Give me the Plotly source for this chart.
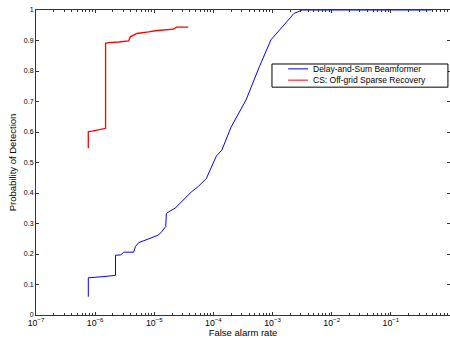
import plotly.graph_objects as go

# Delay-and-Sum Beamformer ROC (false alarm rate, probability of detection)
das_far = [7.66e-7, 7.66e-7, 1.41e-6, 2.21e-6, 2.21e-6, 2.71e-6, 3.04e-6, 4.48e-6,
           4.79e-6, 5.43e-6, 1.175e-5, 1.32e-5, 1.56e-5, 1.60e-5, 1.78e-5, 2.24e-5,
           4.26e-5, 5.52e-5, 7.60e-5, 9.84e-5, 1.12e-4, 1.39e-4, 2.0e-4, 3.56e-4,
           5.98e-4, 9.38e-4, 1.57e-3, 2.31e-3, 3.18e-3, 0.484]
das_pd = [0.060, 0.122, 0.126, 0.130, 0.196, 0.197, 0.206, 0.206,
          0.224, 0.237, 0.262, 0.272, 0.290, 0.333, 0.339, 0.350,
          0.404, 0.421, 0.448, 0.497, 0.521, 0.541, 0.617, 0.705,
          0.814, 0.902, 0.951, 0.989, 1.0, 1.0]

# CS: Off-grid Sparse Recovery ROC
cs_far = [7.66e-7, 7.66e-7, 8.93e-7, 1.16e-6, 1.35e-6, 1.50e-6, 1.50e-6, 1.71e-6,
          2.51e-6, 3.69e-6, 3.94e-6, 4.48e-6, 5.08e-6, 8.0e-6, 1.035e-5, 2.10e-5,
          2.39e-5, 3.75e-5]
cs_pd = [0.547, 0.601, 0.603, 0.607, 0.610, 0.612, 0.891, 0.893,
         0.895, 0.899, 0.912, 0.918, 0.923, 0.928, 0.932, 0.937,
         0.944, 0.944]

series_names = ["Delay-and-Sum Beamformer", "CS: Off-grid Sparse Recovery"]
series_colors = ["#0000ff", "#ff0000"]

y_ticks = [0, 0.1, 0.2, 0.3, 0.4, 0.5, 0.6, 0.7, 0.8, 0.9, 1]
y_tick_text = ["0", "0.1", "0.2", "0.3", "0.4", "0.5", "0.6", "0.7", "0.8", "0.9", "1"]

FONT = "Liberation Sans, Arial, sans-serif"
AXC = "#333333"

fig = go.Figure()
fig.add_trace(go.Scatter(x=das_far, y=das_pd, mode="lines", name=series_names[0],
                         line=dict(color=series_colors[0], width=1)))
fig.add_trace(go.Scatter(x=cs_far, y=cs_pd, mode="lines", name=series_names[1],
                         line=dict(color=series_colors[1], width=1.3)))

# MATLAB-style compact legend box (paper coordinates)
lx0, lx1, ly0, ly1 = 0.570, 0.995, 0.747, 0.823
fig.add_shape(type="rect", xref="paper", yref="paper", x0=lx0, x1=lx1, y0=ly0, y1=ly1,
              line=dict(color="black", width=1), fillcolor="white", layer="above")
rows_y = [0.807, 0.770]
for name, color, ry in zip(series_names, series_colors, rows_y):
    fig.add_shape(type="line", xref="paper", yref="paper", x0=0.609, x1=0.657, y0=ry, y1=ry,
                  line=dict(color=color, width=1), layer="above")
    fig.add_annotation(xref="paper", yref="paper", x=0.6635, y=ry, text=name, showarrow=False,
                       xanchor="left", yanchor="middle", font=dict(size=8.5, family=FONT, color="black"))

fig.update_layout(
    width=450, height=338,
    margin=dict(l=36, r=0, t=10, b=23),
    paper_bgcolor="white", plot_bgcolor="white",
    font=dict(family=FONT, color="black", size=7),
    showlegend=False,
    xaxis=dict(type="log", range=[-7, 0], dtick=1, exponentformat="power",
               showgrid=False, zeroline=False,
               showline=True, linecolor=AXC, linewidth=1, mirror="ticks",
               ticks="inside", ticklen=3, tickcolor=AXC,
               minor=dict(ticks="inside", ticklen=2, dtick="D1", tickcolor=AXC, showgrid=False),
               tickfont=dict(size=7, family=FONT),
               title=dict(text="False alarm rate", font=dict(size=9.5, family=FONT), standoff=1)),
    yaxis=dict(range=[0, 1], tickvals=y_ticks, ticktext=y_tick_text,
               showgrid=False, zeroline=False,
               showline=True, linecolor=AXC, linewidth=1, mirror="ticks",
               ticks="inside", ticklen=3, tickcolor=AXC,
               tickfont=dict(size=7, family=FONT),
               title=dict(text="Probability of Detection", font=dict(size=9.5, family=FONT), standoff=5)),
)

fig.write_html("out.html", config={"displayModeBar": False},
               post_script="document.body.style.margin='0px';")
